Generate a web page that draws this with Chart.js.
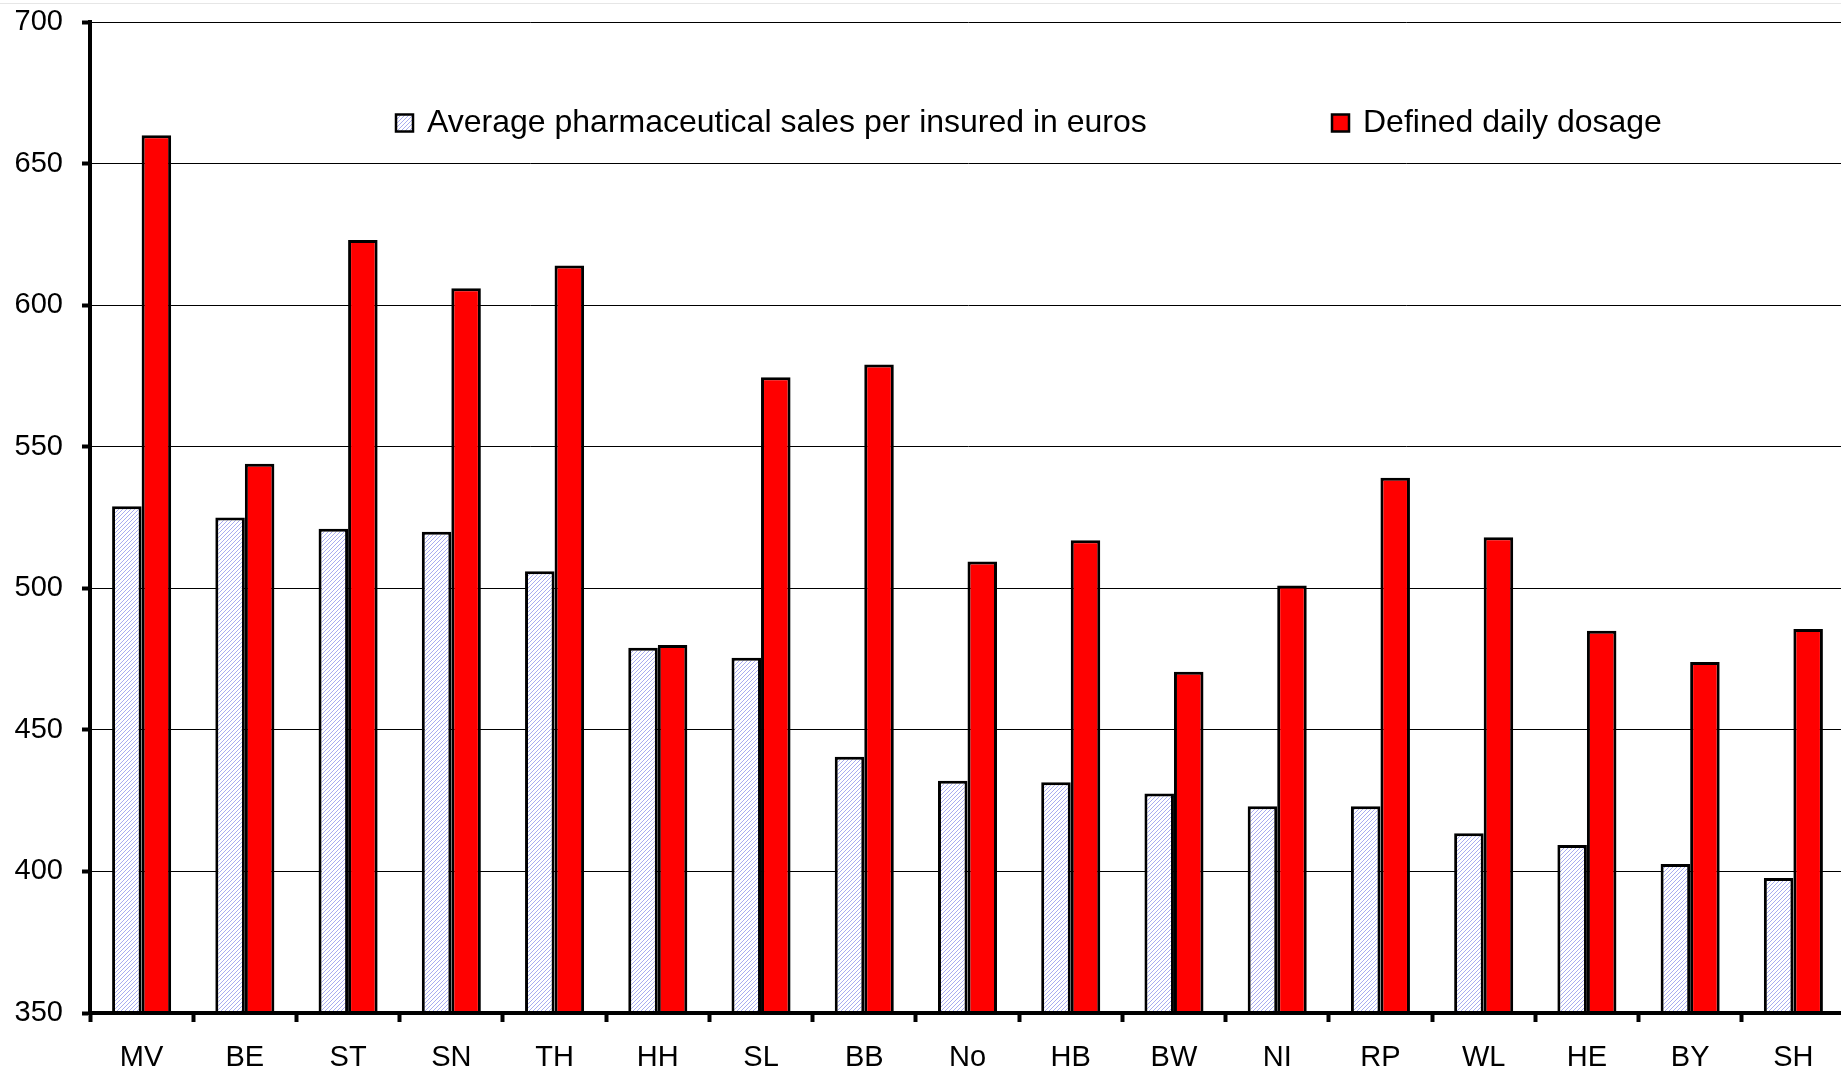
<!DOCTYPE html>
<html><head><meta charset="utf-8">
<script src="https://cdn.jsdelivr.net/npm/chart.js@4.4.1/dist/chart.umd.min.js"></script>
<style>html,body{margin:0;padding:0;background:#fff;overflow:hidden;} canvas{display:block;}</style>
</head><body>
<canvas id="c" width="1845" height="1086"></canvas>
<script>
const categories = ['MV','BE','ST','SN','TH','HH','SL','BB','No','HB','BW','NI','RP','WL','HE','BY','SH'];
const salesPerInsured = [529,525,521,520,506,479,475.5,440.5,432,431.5,427.5,423,423,413.5,409.3,402.6,397.7];
const definedDailyDosage = [660,544,623,606,614,480,574.5,579,509.5,517,470.5,501,539,518,485,474,485.6];
const yTicks = [350,400,450,500,550,600,650,700];
const seriesLabels = ['Average pharmaceutical sales per insured in euros','Defined daily dosage'];

const FONT = '"Liberation Sans", Arial, sans-serif';

function hatch(){
  const p = document.createElement('canvas'); p.width = 4; p.height = 4;
  const g = p.getContext('2d');
  g.fillStyle = '#ffffff'; g.fillRect(0,0,4,4);
  g.fillStyle = '#a8acf0';
  for (let i = 0; i < 4; i++) g.fillRect(i, 3 - i, 1, 1);
  return g.createPattern(p, 'repeat');
}
const hatchFill = hatch();

const legendPlugin = {
  id: 'customLegend',
  beforeDraw(chart){
    const ctx = chart.ctx;
    ctx.save();
    ctx.fillStyle = '#e6e6e6';
    ctx.fillRect(0, 3, chart.width, 1);
    ctx.restore();
  },
  afterDraw(chart){
    const ctx = chart.ctx;
    const items = [
      {x: 396, fill: hatchFill, text: seriesLabels[0]},
      {x: 1332, fill: '#ff0000', text: seriesLabels[1]}
    ];
    const yc = 123;
    ctx.save();
    items.forEach(it => {
      ctx.fillStyle = it.fill;
      ctx.fillRect(it.x, yc - 8.5, 17, 17);
      ctx.lineWidth = 2.5; ctx.strokeStyle = '#000';
      ctx.strokeRect(it.x, yc - 8.5, 17, 17);
      ctx.fillStyle = '#000';
      ctx.font = '32px ' + FONT;
      ctx.textBaseline = 'middle';
      ctx.textAlign = 'left';
      ctx.fillText(it.text, it.x + 31, yc);
    });
    ctx.restore();
  }
};

new Chart(document.getElementById('c').getContext('2d'), {
  type: 'bar',
  data: {
    labels: categories,
    datasets: [
      {label: seriesLabels[0], data: salesPerInsured, backgroundColor: hatchFill, borderColor: '#000', borderWidth: 3,
       categoryPercentage: 0.572, barPercentage: 1.0},
      {label: seriesLabels[1], data: definedDailyDosage, backgroundColor: '#ff0000', borderColor: '#000', borderWidth: 3,
       categoryPercentage: 0.572, barPercentage: 1.0}
    ]
  },
  options: {
    responsive: false,
    animation: false,
    layout: {padding: {top: 22, right: 0, bottom: 0, left: 0}},
    plugins: {legend: {display: false}, tooltip: {enabled: false}},
    scales: {
      x: {
        grid: {display: true, drawOnChartArea: false, drawTicks: true, tickLength: 9, tickWidth: 4, tickColor: '#000', offset: true},
        border: {display: true, width: 4, color: '#000', z: 1},
        ticks: {color: '#000', font: {family: FONT, size: 29}, padding: 19, maxRotation: 0, autoSkip: false},
        afterFit(s){ s.height = 73; s.paddingLeft = 0; s.paddingRight = 0; }
      },
      y: {
        min: 350, max: 700,
        afterBuildTicks(s){ s.ticks = yTicks.map(v => ({value: v})); },
        grid: {color: '#000', lineWidth: 1, tickLength: 8, tickWidth: 4, tickColor: '#000'},
        border: {display: true, width: 4, color: '#000', z: 1},
        ticks: {color: '#000', font: {family: FONT, size: 29}, padding: 19},
        afterFit(s){ s.width = 90; s.paddingTop = 0; s.paddingBottom = 0; }
      }
    }
  },
  plugins: [legendPlugin]
});
</script>
</body></html>
